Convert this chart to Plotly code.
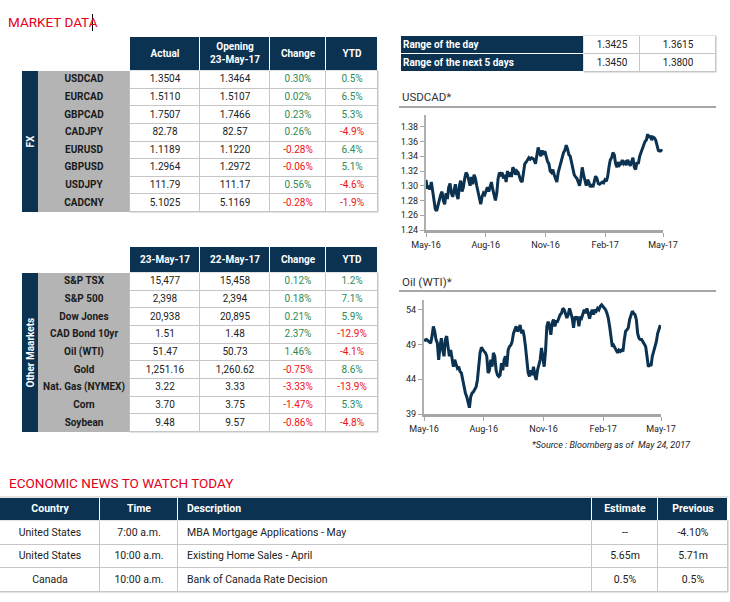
import plotly.graph_objects as go
import pandas as pd

W, H = 730, 602
NAVY = "#0b3250"
GRAY = "#b4b4b4"
BORDER = "#c6c6c6"
GREEN = "#2e8b57"
RED = "#ee1111"
TXT = "#222222"
DARK = "#1a1a1a"
FONT = "Roboto, Arial, sans-serif"

# ---------------- data ----------------
fx_pairs = ["USDCAD", "EURCAD", "GBPCAD", "CADJPY", "EURUSD", "GBPUSD", "USDJPY", "CADCNY"]
fx_actual = ["1.3504", "1.5110", "1.7507", "82.78", "1.1189", "1.2964", "111.79", "5.1025"]
fx_opening = ["1.3464", "1.5107", "1.7466", "82.57", "1.1220", "1.2972", "111.17", "5.1169"]
fx_change = ["0.30%", "0.02%", "0.23%", "0.26%", "-0.28%", "-0.06%", "0.56%", "-0.28%"]
fx_ytd = ["0.5%", "6.5%", "5.3%", "-4.9%", "6.4%", "5.1%", "-4.6%", "-1.9%"]
fx_headers = ["Actual", "Opening<br>23-May-17", "Change", "YTD"]

om_names = ["S&P TSX", "S&P 500", "Dow Jones", "CAD Bond 10yr", "Oil (WTI)", "Gold",
            "Nat. Gas (NYMEX)", "Corn", "Soybean"]
om_today = ["15,477", "2,398", "20,938", "1.51", "51.47", "1,251.16", "3.22", "3.70", "9.48"]
om_prev = ["15,458", "2,394", "20,895", "1.48", "50.73", "1,260.62", "3.33", "3.75", "9.57"]
om_change = ["0.12%", "0.18%", "0.21%", "2.37%", "1.46%", "-0.75%", "-3.33%", "-1.47%", "-0.86%"]
om_ytd = ["1.2%", "7.1%", "5.9%", "-12.9%", "-4.1%", "8.6%", "-13.9%", "5.3%", "-4.8%"]
om_headers = ["23-May-17", "22-May-17", "Change", "YTD"]

range_labels = ["Range of the day", "Range of the next 5 days"]
range_low = ["1.3425", "1.3450"]
range_high = ["1.3615", "1.3800"]

econ_headers = ["Country", "Time", "Description", "Estimate", "Previous"]
econ_country = ["United States", "United States", "Canada"]
econ_time = ["7:00 a.m.", "10:00 a.m.", "10:00 a.m."]
econ_desc = ["MBA Mortgage Applications - May", "Existing Home Sales - April", "Bank of Canada Rate Decision"]
econ_est = ["--", "5.65m", "0.5%"]
econ_prev = ["-4.10%", "5.71m", "0.5%"]

usdcad = [1.308, 1.296, 1.300, 1.295, 1.305, 1.292, 1.278, 1.268, 1.266, 1.275, 1.280, 1.288, 1.292, 1.280,
          1.275, 1.290, 1.282, 1.298, 1.303, 1.290, 1.285, 1.295, 1.302, 1.288, 1.282, 1.300, 1.307, 1.292,
          1.298, 1.310, 1.318, 1.315, 1.305, 1.300, 1.312, 1.302, 1.315, 1.310, 1.300, 1.292, 1.285, 1.275,
          1.285, 1.290, 1.288, 1.295, 1.298, 1.292, 1.300, 1.305, 1.295, 1.285, 1.280, 1.290, 1.310, 1.318,
          1.315, 1.318, 1.310, 1.315, 1.305, 1.320, 1.312, 1.318, 1.312, 1.325, 1.322, 1.315, 1.320, 1.318,
          1.312, 1.307, 1.305, 1.318, 1.330, 1.332, 1.335, 1.338, 1.336, 1.338, 1.337, 1.335, 1.330, 1.340,
          1.352, 1.345, 1.340, 1.348, 1.342, 1.347, 1.338, 1.333, 1.330, 1.320, 1.318, 1.322, 1.315, 1.310,
          1.305, 1.318, 1.325, 1.332, 1.335, 1.345, 1.348, 1.355, 1.350, 1.342, 1.340, 1.330, 1.320, 1.315,
          1.312, 1.310, 1.305, 1.300, 1.310, 1.325, 1.315, 1.305, 1.300, 1.308, 1.305, 1.298, 1.302, 1.298,
          1.305, 1.313, 1.310, 1.303, 1.302, 1.303, 1.305, 1.304, 1.308, 1.306, 1.312, 1.325, 1.335, 1.338,
          1.345, 1.342, 1.330, 1.325, 1.332, 1.328, 1.330, 1.335, 1.330, 1.332, 1.328, 1.335, 1.330, 1.327,
          1.333, 1.338, 1.325, 1.322, 1.332, 1.330, 1.340, 1.345, 1.348, 1.355, 1.360, 1.362, 1.370, 1.365,
          1.368, 1.362, 1.366, 1.365, 1.362, 1.355, 1.348, 1.347, 1.348, 1.347]

oil = [49.7, 49.6, 49.7, 49.5, 49.4, 49.2, 50.2, 51.6, 50.9, 49.7, 49.2, 46.8, 48.7, 49.9, 48.2, 47.3,
       49.7, 50.2, 48.7, 47.3, 48.2, 46.8, 45.8, 46.8, 46.1, 45.6, 45.8, 45.1, 44.9, 43.9, 42.9, 42.0,
       41.5, 40.8, 39.9, 41.5, 42.0, 42.2, 42.5, 42.9, 43.9, 45.8, 47.8, 48.6, 48.2, 48.0, 47.8, 47.3,
       44.9, 45.3, 46.8, 45.8, 47.8, 47.3, 45.3, 44.6, 44.4, 44.6, 46.3, 45.3, 46.8, 47.3, 45.8, 48.2,
       48.7, 48.9, 49.4, 50.6, 51.1, 51.6, 50.9, 51.1, 51.8, 50.6, 51.1, 50.2, 48.7, 46.8, 44.9, 44.4,
       45.3, 44.6, 45.8, 44.6, 43.9, 45.3, 46.3, 46.8, 48.5, 47.3, 45.8, 48.0, 51.6, 52.3, 51.6, 50.4,
       52.1, 52.6, 51.6, 52.3, 52.3, 52.8, 53.3, 53.5, 54.2, 54.0, 53.5, 52.8, 53.3, 54.2, 53.5, 52.8,
       51.4, 53.0, 52.8, 53.0, 51.6, 53.0, 52.8, 53.3, 54.0, 53.5, 54.2, 53.5, 52.7, 53.5, 54.0, 53.3,
       54.0, 53.8, 54.2, 54.0, 54.5, 54.7, 54.5, 54.2, 54.0, 53.5, 52.8, 51.6, 50.2, 48.7, 48.9, 48.5,
       48.0, 47.8, 48.2, 48.0, 48.2, 48.0, 49.7, 50.9, 51.1, 51.4, 52.6, 53.3, 53.8, 53.5, 53.3, 52.6,
       50.6, 49.9, 49.7, 49.7, 49.4, 49.2, 48.7, 47.3, 45.8, 46.2, 45.9, 47.3, 48.0, 48.7, 49.4, 50.6,
       51.1, 51.8]

tick_dates = ["2016-05-24", "2016-08-24", "2016-11-24", "2017-02-24", "2017-05-24"]
tick_text = ["May-16", "Aug-16", "Nov-16", "Feb-17", "May-17"]
usd_ticks = [1.24, 1.26, 1.28, 1.30, 1.32, 1.34, 1.36, 1.38]
oil_ticks = [39, 44, 49, 54]

# ---------------- layout constants (pixel geometry) ----------------
def even_edges(top, bottom, n):
    return [top + (bottom - top) * i / n for i in range(n + 1)]

FX_X = [22, 38, 130, 200, 270, 326, 378]
FX_Y = [37] + even_edges(71, 212, len(fx_pairs))
OM_X = FX_X
OM_Y = [247] + even_edges(273, 432, len(om_names))
RG_X = [401, 584, 640, 716]
RG_Y = [36, 54, 72]
EC_X = [0, 100, 178, 592, 658, 728]
EC_Y = [498, 521, 545, 568, 592]

NV, GR, WH = 0, 1, 2  # cell colour codes
CSCALE = [[0, NAVY], [0.333, NAVY], [0.333, GRAY], [0.667, GRAY], [0.667, "white"], [1, "white"]]


def sign_color(v):
    return RED if v.startswith("-") else GREEN


fig = go.Figure()
shapes = []


def add_table(xe, ye, codes, texts, colors, aligns, size=10, pad=4):
    fig.add_trace(go.Heatmap(
        x=xe, y=ye, z=codes, zmin=0, zmax=2, colorscale=CSCALE, showscale=False,
        xgap=1, ygap=1, hoverinfo="skip", xaxis="x", yaxis="y"))
    groups = {}
    for i, row in enumerate(texts):
        for j, t in enumerate(row):
            if t == "":
                continue
            yc = (ye[i] + ye[i + 1]) / 2
            if aligns[i][j] == "left":
                key, xc = "middle right", xe[j] + pad
            else:
                key, xc = "middle center", (xe[j] + xe[j + 1]) / 2
            g = groups.setdefault(key, dict(x=[], y=[], t=[], c=[]))
            g["x"].append(xc)
            g["y"].append(yc)
            g["t"].append(t)
            g["c"].append(colors[i][j])
    for key, g in groups.items():
        fig.add_trace(go.Scatter(
            x=g["x"], y=g["y"], text=g["t"], mode="text", textposition=key,
            textfont=dict(color=g["c"], size=size, family=FONT),
            hoverinfo="skip", cliponaxis=False, xaxis="x", yaxis="y"))


def bg_rect(x0, x1, y0, y1, color):
    shapes.append(dict(type="rect", xref="x", yref="y", x0=x0, x1=x1, y0=y0, y1=y1,
                       fillcolor=color, line=dict(width=0), layer="below"))


def market_table(xe, ye, headers, names, c1, c2, chg, ytd):
    codes = [[None, None, NV, NV, NV, NV]]
    texts = [["", ""] + ["<b>%s</b>" % h for h in headers]]
    colors = [["white"] * 6]
    aligns = [["center"] * 6]
    for k in range(len(names)):
        codes.append([NV, GR, WH, WH, WH, WH])
        texts.append(["", "<b>%s</b>" % names[k], c1[k], c2[k], chg[k], ytd[k]])
        colors.append(["white", DARK, TXT, TXT, sign_color(chg[k]), sign_color(ytd[k])])
        aligns.append(["center"] * 6)
    bg_rect(xe[0], xe[1], ye[1], ye[-1], NAVY)
    bg_rect(xe[1], xe[2], ye[1], ye[-1], GRAY)
    bg_rect(xe[2] - 0.5, xe[-1] + 0.5, ye[1] - 0.5, ye[-1] + 0.5, BORDER)
    add_table(xe, ye, codes, texts, colors, aligns)


market_table(FX_X, FX_Y, fx_headers, fx_pairs, fx_actual, fx_opening, fx_change, fx_ytd)
market_table(OM_X, OM_Y, om_headers, om_names, om_today, om_prev, om_change, om_ytd)

# range table
codes = [[NV, WH, WH] for _ in range_labels]
texts = [["<b>%s</b>" % range_labels[k], range_low[k], range_high[k]] for k in range(len(range_labels))]
colors = [["white", TXT, TXT] for _ in range_labels]
aligns = [["left", "center", "center"] for _ in range_labels]
bg_rect(RG_X[1] - 0.5, RG_X[-1] + 0.5, RG_Y[0] - 0.5, RG_Y[-1] + 0.5, BORDER)
add_table(RG_X, RG_Y, codes, texts, colors, aligns, pad=2)

# economic news table
ec_cols = [econ_country, econ_time, econ_desc, econ_est, econ_prev]
ec_align = ["center", "center", "left", "center", "center"]
codes = [[NV] * 5] + [[WH] * 5 for _ in econ_country]
texts = [["<b>%s</b>" % h for h in econ_headers]] + [[c[k] for c in ec_cols] for k in range(len(econ_country))]
colors = [["white"] * 5] + [[TXT] * 5 for _ in econ_country]
aligns = [ec_align for _ in range(len(econ_country) + 1)]
bg_rect(EC_X[0], EC_X[-1] + 0.5, EC_Y[1] - 0.5, EC_Y[-1] + 0.5, BORDER)
bg_rect(EC_X[0], EC_X[-1] + 0.5, EC_Y[0] - 1.5, EC_Y[0] - 0.5, BORDER)
add_table(EC_X, EC_Y, codes, texts, colors, aligns, size=10.5, pad=9)

# ---------------- line charts ----------------
usd_dates = pd.date_range("2016-05-24", "2017-05-23", periods=len(usdcad))
oil_dates = pd.date_range("2016-05-24", "2017-05-23", periods=len(oil))

fig.add_trace(go.Scatter(x=usd_dates, y=usdcad, mode="lines",
                         line=dict(color=NAVY, width=3), xaxis="x2", yaxis="y2", hoverinfo="skip"))
fig.add_trace(go.Scatter(x=oil_dates, y=oil, mode="lines",
                         line=dict(color=NAVY, width=3), xaxis="x3", yaxis="y3", hoverinfo="skip"))

xcommon = dict(type="date", range=["2016-05-24", "2017-05-24"], tickvals=tick_dates, ticktext=tick_text,
               showline=True, linecolor="#a6a6a6", linewidth=3, ticks="outside", ticklen=4,
               tickcolor="#a6a6a6", showgrid=False, zeroline=False, automargin=False, fixedrange=True,
               tickfont=dict(size=9, color=TXT, family=FONT))
ycommon = dict(showline=True, linecolor="#b0b0b0", linewidth=2, ticks="outside", ticklen=4,
               tickcolor="#a6a6a6", showgrid=False, zeroline=False, automargin=False, fixedrange=True,
               tickfont=dict(size=9, color=TXT, family=FONT))


def X(px):
    return px / W


def Y(py):
    return 1 - py / H


fig.update_layout(
    xaxis=dict(domain=[0, 1], range=[0, W], visible=False, fixedrange=True, automargin=False),
    yaxis=dict(domain=[0, 1], range=[H, 0], visible=False, fixedrange=True, automargin=False),
    xaxis2=dict(domain=[X(426), X(663)], anchor="y2", **xcommon),
    yaxis2=dict(domain=[Y(230), Y(115)], anchor="x2", range=[1.24, 1.396], tickvals=usd_ticks,
                tickformat=".2f", **ycommon),
    xaxis3=dict(domain=[X(424), X(661)], anchor="y3", **xcommon),
    yaxis3=dict(domain=[Y(414), Y(300)], anchor="x3", range=[39, 55.4], tickvals=oil_ticks, **ycommon),
)

# ---------------- decorations ----------------
shapes += [
    dict(type="line", xref="paper", yref="paper", x0=X(399), x1=X(716), y0=Y(107), y1=Y(107),
         line=dict(color="#a6a6a6", width=2)),
    dict(type="line", xref="paper", yref="paper", x0=X(399), x1=X(716), y0=Y(291), y1=Y(291),
         line=dict(color="#a6a6a6", width=2)),
    dict(type="line", xref="paper", yref="paper", x0=X(92.5), x1=X(92.5), y0=Y(31), y1=Y(14),
         line=dict(color="black", width=1)),
]

annotations = [
    dict(text="MARKET DATA", x=X(6), y=Y(22), xanchor="left", yanchor="middle",
         font=dict(size=13.5, color="#e2001a", family=FONT)),
    dict(text="ECONOMIC NEWS TO WATCH TODAY", x=X(7), y=Y(483), xanchor="left", yanchor="middle",
         font=dict(size=13.5, color="#e2001a", family=FONT)),
    dict(text="USDCAD*", x=X(400), y=Y(97), xanchor="left", yanchor="middle",
         font=dict(size=11.5, color="#333333", family=FONT)),
    dict(text="Oil (WTI)*", x=X(400), y=Y(282), xanchor="left", yanchor="middle",
         font=dict(size=11.5, color="#333333", family=FONT)),
    dict(text="<i>*Source : Bloomberg as of  May 24, 2017</i>", x=X(530), y=Y(445), xanchor="left",
         yanchor="middle", font=dict(size=9, color=TXT, family=FONT)),
    dict(text="<b>FX</b>", x=X(30), y=Y((FX_Y[1] + FX_Y[-1]) / 2), textangle=-90, xanchor="center",
         yanchor="middle", font=dict(size=10, color="white", family=FONT)),
    dict(text="<b>Other Maarkets</b>", x=X(30), y=Y((OM_Y[1] + OM_Y[-1]) / 2), textangle=-90,
         xanchor="center", yanchor="middle", font=dict(size=10, color="white", family=FONT)),
]
for a in annotations:
    a.update(xref="paper", yref="paper", showarrow=False)

fig.update_layout(
    width=W, height=H, margin=dict(l=0, r=0, t=0, b=0, pad=0, autoexpand=False),
    paper_bgcolor="white", plot_bgcolor="rgba(0,0,0,0)", showlegend=False,
    font=dict(family=FONT, color=TXT),
    shapes=shapes, annotations=annotations,
)

fig.write_html("out.html", config={"displayModeBar": False},
               post_script="document.body.style.margin='0';")
